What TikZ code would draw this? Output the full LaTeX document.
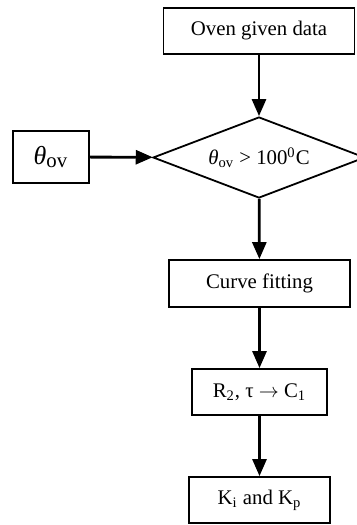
\documentclass[tikz,border=0pt]{standalone}
\usepackage{fontspec}
\setmainfont{Liberation Serif}
\usetikzlibrary{shapes.geometric,arrows.meta}

\begin{document}
\begin{tikzpicture}[x=0.5pt, y=-0.5pt,
    font=\fontsize{10.4}{12}\selectfont,
    box/.style={draw, line width=0.9pt, inner sep=0pt, minimum height=23pt},
    flow/.style={line width=1.4pt, -{Triangle[length=8.5pt, width=7pt]}}]
  \useasboundingbox (0,0) rectangle (357,525);

  % Blocks
  \node[box, minimum width=95.5pt] (data) at (259, 31) {Oven given data};
  \node[draw, line width=0.9pt, shape=diamond, aspect=2.6, inner sep=0pt,
        minimum width=106pt, minimum height=40.5pt] (test) at (259, 157.5)
    {{\itshape θ}\textsubscript{ov} > 100\textsuperscript{0}C};
  \node[box, minimum width=38pt, minimum height=26pt,
        font=\fontsize{13}{15}\selectfont] (theta) at (51, 157)
    {{\itshape θ}\textsubscript{\fontsize{10.4}{12}\selectfont ov}};
  \node[box, minimum width=90.5pt, minimum height=23.5pt] (fit) at (259.5, 283.5)
    {Curve fitting};
  \node[box, minimum width=67.5pt] (cap) at (259.5, 392)
    {R\textsubscript{2}, τ $\rightarrow$ C\textsubscript{1}};
  \node[box, minimum width=70.5pt] (gain) at (259.5, 500)
    {K\textsubscript{i} and K\textsubscript{p}};

  % Connectors
  \draw[flow] (data) -- (test);
  \draw[flow] (theta) -- (test);
  \draw[flow] (test) -- (fit);
  \draw[flow] (fit) -- (cap);
  \draw[flow] (cap) -- (gain);
\end{tikzpicture}
\end{document}
